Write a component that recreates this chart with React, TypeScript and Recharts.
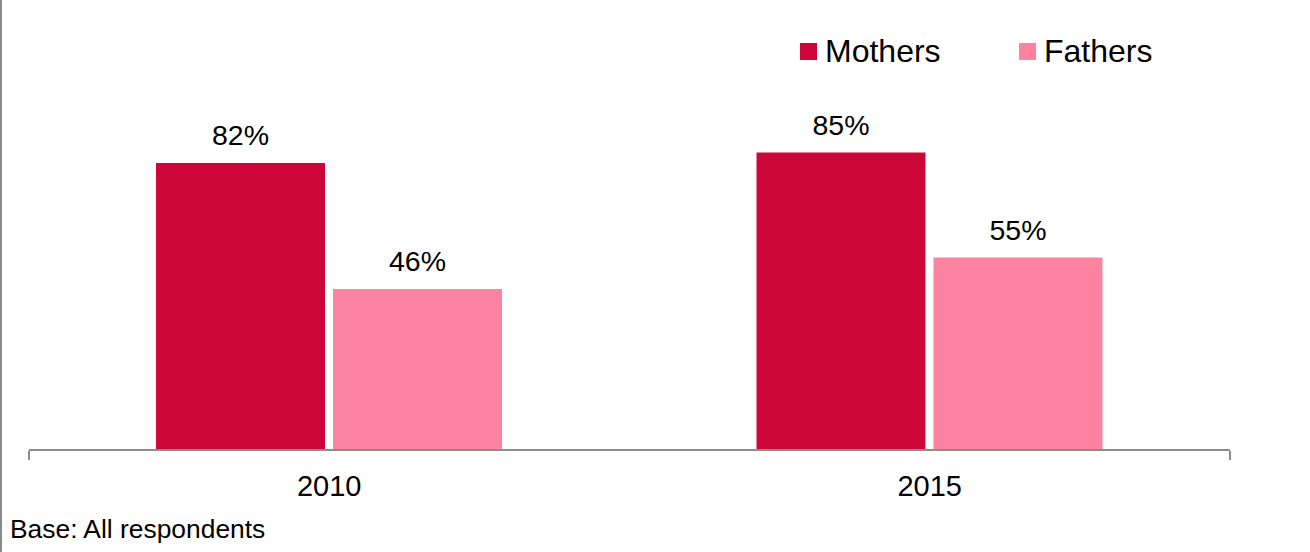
import React from 'react';
import { BarChart, Bar, XAxis, YAxis, LabelList, Legend } from 'recharts';

const years = ['2010', '2015'];
const mothers = [82, 85];
const fathers = [46, 55];
const seriesNames = ['Mothers', 'Fathers'];
const boundaryTicks = [0, 1, 2];
const baseNote = 'Base: All respondents';

const MOTHERS_COLOR = '#CC0638';
const FATHERS_COLOR = '#FC84A1';
const AXIS_COLOR = '#8C8C8C';
const FONT = '"Liberation Sans", Arial, sans-serif';

const data = years.map((y, i) => ({ year: y, mothers: mothers[i], fathers: fathers[i] }));

const pct = (v: any) => `${v}%`;

const LegendContent = () => (
  <div style={{ position: 'relative', width: 400, height: 50, fontFamily: FONT }}>
    {[MOTHERS_COLOR, FATHERS_COLOR].map((c, i) => (
      <div key={i} style={{ position: 'absolute', left: i * 219, top: 0 }}>
        <div style={{ position: 'absolute', left: 0, top: 13, width: 17, height: 17, background: c }} />
        <span
          style={{
            position: 'absolute',
            left: 25,
            top: 5,
            fontSize: 32,
            lineHeight: '32px',
            color: '#000',
            whiteSpace: 'nowrap',
          }}
        >
          {seriesNames[i]}
        </span>
      </div>
    ))}
  </div>
);

export default function App() {
  return (
    <div style={{ position: 'absolute', left: 0, top: 0, width: 1310, height: 552, background: '#fff', overflow: 'hidden' }}>
      <div style={{ position: 'absolute', left: 0, top: 0, width: 2, height: 552, background: '#8A8A8A' }} />
      <div style={{ position: 'absolute', left: 0, top: 0 }}>
        <BarChart
          width={1310}
          height={552}
          data={data}
          margin={{ top: 100, right: 80, bottom: 41, left: 29 }}
          barCategoryGap={127}
          barGap={8}
        >
          <XAxis
            xAxisId="edges"
            type="number"
            domain={[0, 2]}
            ticks={boundaryTicks}
            interval={0}
            allowDataOverflow
            height={60}
            tickFormatter={() => ''}
            tickSize={9}
            tickLine={{ stroke: AXIS_COLOR, strokeWidth: 2 }}
            axisLine={false}
          />
          <XAxis
            xAxisId="cat"
            dataKey="year"
            height={1}
            axisLine={{ stroke: AXIS_COLOR, strokeWidth: 2 }}
            tickLine={false}
            tickSize={0}
            tickMargin={25}
            tick={{ fontSize: 29, fill: '#000', fontFamily: FONT }}
          />
          <YAxis hide domain={[0, 100]} />
          <Legend
            layout="horizontal"
            verticalAlign="middle"
            align="center"
            wrapperStyle={{ position: 'absolute', left: 800, top: 30, width: 420, height: 50 }}
            content={<LegendContent />}
          />
          <Bar xAxisId="cat" dataKey="mothers" fill={MOTHERS_COLOR} isAnimationActive={false}>
            <LabelList dataKey="mothers" position="top" offset={18} formatter={pct} style={{ fontSize: 28.5, fill: '#000', fontFamily: FONT }} />
          </Bar>
          <Bar xAxisId="cat" dataKey="fathers" fill={FATHERS_COLOR} isAnimationActive={false}>
            <LabelList dataKey="fathers" position="top" offset={18} formatter={pct} style={{ fontSize: 28.5, fill: '#000', fontFamily: FONT }} />
          </Bar>
        </BarChart>
      </div>
      <div
        style={{
          position: 'absolute',
          left: 10,
          top: 516,
          fontSize: 26.4,
          lineHeight: '26.4px',
          fontFamily: FONT,
          color: '#000',
          whiteSpace: 'nowrap',
        }}
      >
        {baseNote}
      </div>
    </div>
  );
}
